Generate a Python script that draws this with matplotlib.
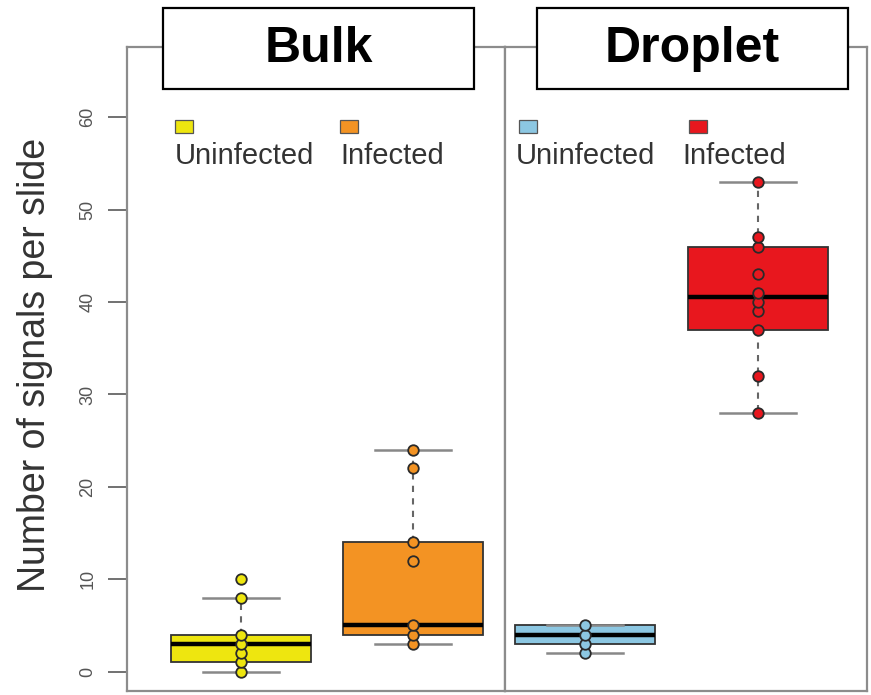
import matplotlib
matplotlib.use("Agg")
import matplotlib.pyplot as plt
from matplotlib.patches import Rectangle

plt.rcParams["font.family"] = ["Liberation Sans", "DejaVu Sans"]

# ---------------------------------------------------------------
# dados
# ---------------------------------------------------------------
PAINEIS = ["Bulk", "Droplet"]
GRUPOS = ["Uninfected", "Infected"]

bulk_uninf = [0, 1, 2, 3, 4, 8, 10]
bulk_inf = [3, 4, 5, 12, 14, 22, 24]
drop_uninf = [2, 3, 4, 5]
drop_inf = [28, 32, 37, 39, 40, 41, 43, 46, 47, 53]

# estatísticas da caixa: whislo, q1, med, q3, whishi
bulk_uninf_box = [0, 1, 3, 4, 8]
bulk_inf_box = [3, 4, 5, 14, 24]
drop_uninf_box = [2, 3, 4, 5, 5]
drop_inf_box = [28, 37, 40.5, 46, 53]

yticks = [0, 10, 20, 30, 40, 50, 60]

CORES = {
    "Bulk": ["#EEE60F", "#F39323"],
    "Droplet": ["#8CC7E2", "#E8171E"],
}
FRAME = "#8c8c8c"

W, H = 871, 695
fig = plt.figure(figsize=(W / 100, H / 100), dpi=100)


def fx(px):
    return px / W


def fy(py):
    return 1 - py / H


TOP, BOT = 47, 691
ax1 = fig.add_axes([fx(127), fy(BOT), fx(505 - 127), (BOT - TOP) / H])
ax2 = fig.add_axes([fx(505), fy(BOT), fx(867 - 505), (BOT - TOP) / H])

dados = {
    "Bulk": ([bulk_uninf, bulk_inf], [bulk_uninf_box, bulk_inf_box], ax1, (0.337, 2.535)),
    "Droplet": ([drop_uninf, drop_inf], [drop_uninf_box, drop_inf_box], ax2, (0.535, 2.628)),
}

for painel in PAINEIS:
    pontos, caixas, ax, xlim = dados[painel]
    cores = CORES[painel]
    stats = []
    for nome, c in zip(GRUPOS, caixas):
        stats.append(dict(label=nome, whislo=c[0], q1=c[1], med=c[2],
                          q3=c[3], whishi=c[4], fliers=[]))
    bp = ax.bxp(stats, positions=[1, 2], widths=0.81, capwidths=0.44,
                patch_artist=True, showfliers=False,
                boxprops=dict(edgecolor="#333333", linewidth=1.3),
                medianprops=dict(color="black", linewidth=3.2),
                whiskerprops=dict(color="#666666", linewidth=1.5, linestyle=(0, (3, 3))),
                capprops=dict(color="#888888", linewidth=1.8))
    for caixa, cor in zip(bp["boxes"], cores):
        caixa.set_facecolor(cor)

    for i, (vals, cor) in enumerate(zip(pontos, cores)):
        ax.plot([i + 1] * len(vals), vals, "o", ms=7.6, mfc=cor, mec="#2a2a2a",
                mew=1.3, zorder=5, clip_on=False)

    ax.set_xlim(*xlim)
    ax.set_ylim(-2.09, 67.6)
    ax.set_xticks([])
    for sp in ax.spines.values():
        sp.set_color(FRAME)
        sp.set_linewidth(1.6)

# eixo y (estilo R)
ax1.set_yticks(yticks)
ax1.set_yticklabels([str(v) for v in yticks], rotation=90, va="center",
                    fontsize=13, color="#555555")
ax1.tick_params(axis="y", length=14, width=1.3, color="#666666", pad=8)
ax2.set_yticks([])

fig.text(fx(35), fy(365), "Number of signals per slide", rotation=90,
         ha="center", va="center", fontsize=27, color="#333333")

# legendas (quadrado acima do texto)
leg_pos = {
    "Bulk": (ax1, [0.1495, 0.5886], [0.127, 0.5635]),
    "Droplet": (ax2, [0.0622, 0.5331], [0.0304, 0.489]),
}
for painel in PAINEIS:
    ax, qx, tx = leg_pos[painel]
    largura_q = 18 / (ax.bbox.width)
    altura_q = 13 / (ax.bbox.height)
    for nome, cor, x_q, x_t in zip(GRUPOS, CORES[painel], qx, tx):
        ax.add_patch(Rectangle((x_q - largura_q / 2, 0.877 - altura_q / 2),
                               largura_q, altura_q, transform=ax.transAxes,
                               facecolor=cor, edgecolor="#555555", lw=0.9,
                               clip_on=False))
        ax.text(x_t, 0.830, nome, transform=ax.transAxes, ha="left",
                va="center", fontsize=21, color="#333333")

# caixas de título
for nome, x0 in zip(PAINEIS, [163, 537]):
    fig.add_artist(Rectangle((fx(x0), fy(89)), fx(311), 81 / H,
                             transform=fig.transFigure, facecolor="white",
                             edgecolor="black", lw=1.6, zorder=10))
    fig.text(fx(x0 + 155.5), fy(49), nome, ha="center", va="center",
             fontsize=36, fontweight="bold", color="black", zorder=11)

fig.savefig("out.png", dpi=100, facecolor="white")
